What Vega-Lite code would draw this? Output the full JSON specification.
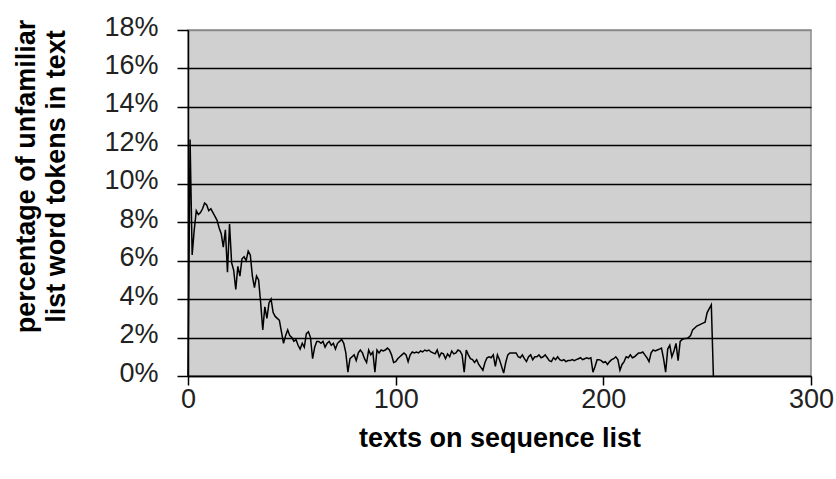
{
  "$schema": "https://vega.github.io/schema/vega-lite/v6.json",
  "width": 623,
  "height": 346,
  "autosize": "none",
  "padding": {"left": 188, "top": 30, "right": 25, "bottom": 103},
  "background": "white",
  "config": {
    "view": {"fill": "#d0d0d0", "stroke": "#8a8a8a", "strokeWidth": 1.5},
    "font": "Liberation Sans"
  },
  "data": {"values": [
    {"x":0,"v":0},{"x":1,"v":12.3},{"x":2,"v":6.3},{"x":3,"v":7.6},{"x":4,"v":8.6},{"x":5,"v":8.4},{"x":6,"v":8.5},{"x":7,"v":8.7},{"x":8,"v":9.0},{"x":9,"v":8.9},
    {"x":10,"v":8.6},{"x":11,"v":8.7},{"x":12,"v":8.5},{"x":13,"v":8.3},{"x":14,"v":8.1},{"x":15,"v":7.7},{"x":16,"v":7.4},{"x":17,"v":6.7},{"x":18,"v":7.6},{"x":19,"v":5.4},
    {"x":20,"v":7.9},{"x":21,"v":5.9},{"x":22,"v":5.5},{"x":23,"v":4.5},{"x":24,"v":5.7},{"x":25,"v":5.2},{"x":26,"v":6.1},{"x":27,"v":6.2},{"x":28,"v":6.0},{"x":29,"v":6.5},
    {"x":30,"v":6.3},{"x":31,"v":5.2},{"x":32,"v":4.6},{"x":33,"v":5.2},{"x":34,"v":5.0},{"x":35,"v":3.8},{"x":36,"v":2.4},{"x":37,"v":3.6},{"x":38,"v":3.0},{"x":39,"v":3.8},
    {"x":40,"v":4.0},{"x":41,"v":3.3},{"x":42,"v":3.1},{"x":43,"v":3.0},{"x":44,"v":2.9},{"x":45,"v":2.3},{"x":46,"v":1.7},{"x":47,"v":2.1},{"x":48,"v":2.4},{"x":49,"v":2.1},
    {"x":50,"v":2.0},{"x":51,"v":1.8},{"x":52,"v":1.9},{"x":53,"v":1.6},{"x":54,"v":1.4},{"x":55,"v":1.7},{"x":56,"v":1.5},{"x":57,"v":2.2},{"x":58,"v":2.3},{"x":59,"v":2.0},
    {"x":60,"v":0.9},{"x":61,"v":1.5},{"x":62,"v":1.8},{"x":63,"v":1.8},{"x":64,"v":1.7},{"x":65,"v":1.8},{"x":66,"v":1.5},{"x":67,"v":1.7},{"x":68,"v":1.8},{"x":69,"v":1.6},
    {"x":70,"v":1.7},{"x":71,"v":1.4},{"x":72,"v":1.7},{"x":73,"v":1.8},{"x":74,"v":1.9},{"x":75,"v":1.7},{"x":76,"v":1.2},{"x":77,"v":0.2},{"x":78,"v":0.9},{"x":79,"v":1.0},
    {"x":80,"v":1.1},{"x":81,"v":0.8},{"x":82,"v":1.2},{"x":83,"v":1.35},{"x":84,"v":1.2},{"x":85,"v":0.9},{"x":86,"v":0.7},{"x":87,"v":1.35},{"x":88,"v":1.1},{"x":89,"v":1.25},
    {"x":90,"v":0.2},{"x":91,"v":1.35},{"x":92,"v":1.2},{"x":93,"v":1.35},{"x":94,"v":1.3},{"x":95,"v":1.35},{"x":96,"v":1.45},{"x":97,"v":1.35},{"x":98,"v":1.1},{"x":99,"v":0.7},
    {"x":100,"v":0.75},{"x":101,"v":0.9},{"x":102,"v":1.0},{"x":103,"v":1.1},{"x":104,"v":1.2},{"x":105,"v":1.1},{"x":106,"v":0.75},{"x":107,"v":1.1},{"x":108,"v":1.25},{"x":109,"v":1.2},
    {"x":110,"v":1.25},{"x":111,"v":1.2},{"x":112,"v":1.3},{"x":113,"v":1.25},{"x":114,"v":1.35},{"x":115,"v":1.3},{"x":116,"v":1.35},{"x":117,"v":1.25},{"x":118,"v":1.2},{"x":119,"v":1.15},
    {"x":120,"v":1.35},{"x":121,"v":1.0},{"x":122,"v":1.2},{"x":123,"v":1.15},{"x":124,"v":0.9},{"x":125,"v":1.15},{"x":126,"v":1.0},{"x":127,"v":1.3},{"x":128,"v":1.15},{"x":129,"v":1.2},
    {"x":130,"v":1.35},{"x":131,"v":1.3},{"x":132,"v":1.1},{"x":133,"v":0.2},{"x":134,"v":1.35},{"x":135,"v":1.1},{"x":136,"v":0.9},{"x":137,"v":0.85},{"x":138,"v":0.7},{"x":139,"v":0.85},
    {"x":140,"v":0.6},{"x":141,"v":0.45},{"x":142,"v":0.3},{"x":143,"v":0.7},{"x":144,"v":0.95},{"x":145,"v":1.0},{"x":146,"v":0.95},{"x":147,"v":1.1},{"x":148,"v":0.5},{"x":149,"v":1.1},
    {"x":150,"v":0.85},{"x":151,"v":0.5},{"x":152,"v":0.15},{"x":153,"v":0.7},{"x":154,"v":1.1},{"x":155,"v":1.2},{"x":156,"v":1.2},{"x":157,"v":1.2},{"x":158,"v":1.2},{"x":159,"v":1.0},
    {"x":160,"v":0.95},{"x":161,"v":1.1},{"x":162,"v":0.9},{"x":163,"v":0.75},{"x":164,"v":1.0},{"x":165,"v":1.1},{"x":166,"v":0.85},{"x":167,"v":1.0},{"x":168,"v":1.0},{"x":169,"v":1.1},
    {"x":170,"v":0.95},{"x":171,"v":1.0},{"x":172,"v":1.1},{"x":173,"v":0.95},{"x":174,"v":0.8},{"x":175,"v":0.75},{"x":176,"v":0.95},{"x":177,"v":0.85},{"x":178,"v":1.0},{"x":179,"v":0.85},
    {"x":180,"v":0.8},{"x":181,"v":0.85},{"x":182,"v":0.75},{"x":183,"v":0.8},{"x":184,"v":0.8},{"x":185,"v":0.85},{"x":186,"v":0.8},{"x":187,"v":0.85},{"x":188,"v":0.9},{"x":189,"v":0.95},
    {"x":190,"v":0.85},{"x":191,"v":0.9},{"x":192,"v":0.95},{"x":193,"v":0.9},{"x":194,"v":0.95},{"x":195,"v":0.2},{"x":196,"v":0.5},{"x":197,"v":0.85},{"x":198,"v":0.85},{"x":199,"v":0.8},
    {"x":200,"v":0.7},{"x":201,"v":0.75},{"x":202,"v":0.6},{"x":203,"v":0.75},{"x":204,"v":0.85},{"x":205,"v":0.9},{"x":206,"v":1.0},{"x":207,"v":0.85},{"x":208,"v":0.3},{"x":209,"v":0.6},
    {"x":210,"v":0.75},{"x":211,"v":1.0},{"x":212,"v":0.95},{"x":213,"v":1.1},{"x":214,"v":0.95},{"x":215,"v":1.0},{"x":216,"v":1.1},{"x":217,"v":1.2},{"x":218,"v":1.2},{"x":219,"v":1.25},
    {"x":220,"v":1.1},{"x":221,"v":0.95},{"x":222,"v":0.75},{"x":223,"v":1.2},{"x":224,"v":1.35},{"x":225,"v":1.3},{"x":226,"v":1.35},{"x":227,"v":1.4},{"x":228,"v":1.45},{"x":229,"v":0.9},
    {"x":230,"v":0.2},{"x":231,"v":1.4},{"x":232,"v":1.6},{"x":233,"v":1.0},{"x":234,"v":1.3},{"x":235,"v":1.7},{"x":236,"v":0.8},{"x":237,"v":1.8},{"x":238,"v":1.9},{"x":239,"v":1.95},
    {"x":240,"v":1.95},{"x":241,"v":2.0},{"x":242,"v":2.1},{"x":243,"v":2.4},{"x":244,"v":2.5},{"x":245,"v":2.6},{"x":246,"v":2.65},{"x":247,"v":2.7},{"x":248,"v":2.75},{"x":249,"v":2.8},
    {"x":250,"v":3.3},{"x":251,"v":3.5},{"x":252,"v":3.7},{"x":253,"v":0}
  ]},
  "transform": [{"calculate": "datum.v / 100", "as": "pct"}],
  "mark": {"type": "line", "color": "black", "strokeWidth": 1.5, "interpolate": "linear"},
  "encoding": {
    "x": {
      "field": "x", "type": "quantitative",
      "scale": {"domain": [0, 300], "nice": false, "zero": false},
      "axis": {
        "values": [0, 100, 200, 300], "grid": false,
        "domainColor": "black", "domainWidth": 1.5,
        "tickColor": "black", "tickSize": 9, "tickWidth": 1.5,
        "labelFontSize": 27, "labelColor": "#222", "labelPadding": 1,
        "labelFlush": false, "labelOverlap": false,
        "title": "texts on sequence list", "titleFontSize": 27, "titleFontWeight": "bold",
        "titleColor": "black", "titlePadding": 13
      }
    },
    "y": {
      "field": "pct", "type": "quantitative",
      "scale": {"domain": [0, 0.18], "nice": false},
      "axis": {
        "values": [0, 0.02, 0.04, 0.06, 0.08, 0.1, 0.12, 0.14, 0.16, 0.18],
        "format": ".0%",
        "grid": true,
        "gridColor": {"condition": {"test": "datum.value >= 0.179", "value": "#8a8a8a"}, "value": "black"},
        "gridWidth": 1.3,
        "domainColor": "black", "domainWidth": 1.5,
        "tickColor": "black", "tickSize": 11, "tickWidth": 1.5,
        "labelFontSize": 27, "labelColor": "#222", "labelPadding": 19, "labelOffset": -3,
        "labelFlush": false, "labelOverlap": false,
        "title": ["percentage of unfamiliar", "list word tokens in text"],
        "titleFontSize": 27, "titleFontWeight": "bold", "titleColor": "black",
        "titleAngle": -90, "titleAlign": "center", "titleBaseline": "top",
        "titleX": -175, "titleY": 146, "titleLineHeight": 30
      }
    }
  }
}
